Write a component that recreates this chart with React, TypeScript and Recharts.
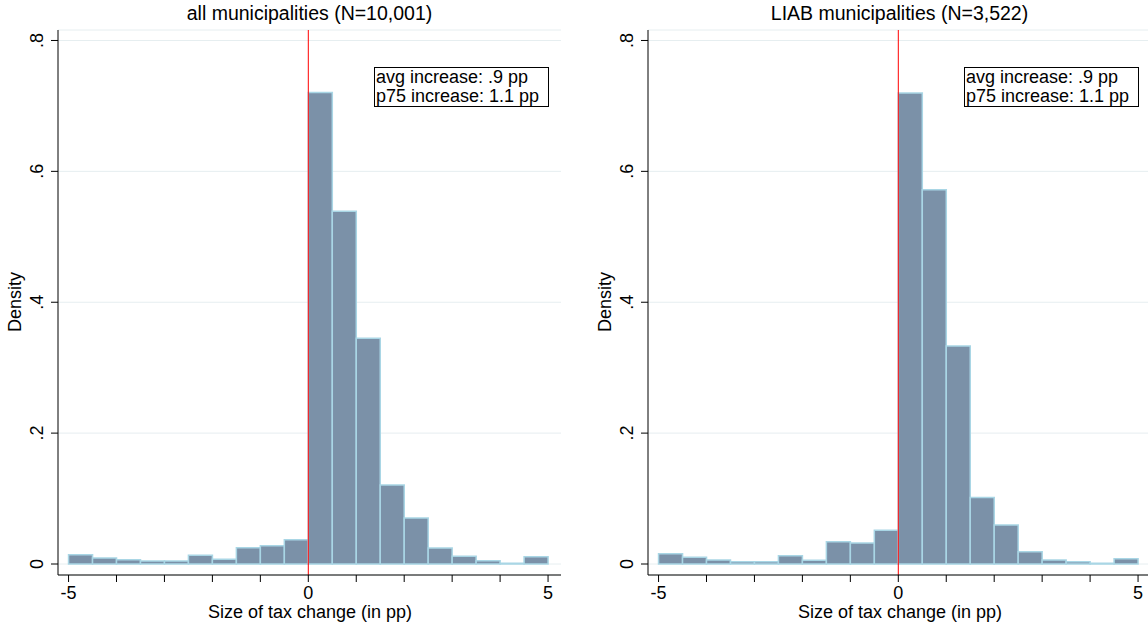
import { ComposedChart, Bar, XAxis, YAxis, CartesianGrid, ReferenceLine } from 'recharts'

// histogram bins of width 0.5 pp, from -5 to 5
const binMids = [-4.75, -4.25, -3.75, -3.25, -2.75, -2.25, -1.75, -1.25, -0.75, -0.25, 0.25, 0.75, 1.25, 1.75, 2.25, 2.75, 3.25, 3.75, 4.25, 4.75]
const allDensity = [0.0142, 0.0092, 0.0066, 0.0046, 0.0046, 0.0132, 0.0071, 0.0249, 0.028, 0.0371, 0.7206, 0.539, 0.345, 0.1206, 0.0702, 0.0244, 0.0117, 0.0051, 0.001, 0.0112]
const liabDensity = [0.0158, 0.0102, 0.0061, 0.0036, 0.0036, 0.0127, 0.0056, 0.0341, 0.0321, 0.0514, 0.7196, 0.572, 0.3333, 0.1018, 0.0595, 0.0188, 0.0061, 0.0036, 0.001, 0.0081]
const xTicks = [-5, -4, -3, -2, -1, 0, 1, 2, 3, 4, 5]
const xLabelled = [-5, 0, 5]
const yTicks = [0, 0.2, 0.4, 0.6, 0.8]

const rows = binMids.map((x, i) => ({ x, all: allDensity[i], liab: liabDensity[i] }))

const fmtY = (v: number) => (v === 0 ? '0' : String(v).replace(/^0/, ''))

function YTick(props: any) {
  const { y, payload } = props
  return (
    <text transform={`translate(43,${y}) rotate(-90)`} textAnchor="middle" fontSize={18} fill="#000">
      {fmtY(payload.value)}
    </text>
  )
}

function Panel({ title, dataKey, left }: { title: string; dataKey: string; left: number }) {
  return (
    <div style={{ position: 'absolute', left, top: 0, width: 580, height: 627 }}>
      <div style={{ position: 'absolute', left: 0, top: 3, width: 619, textAlign: 'center', fontSize: 19.5, lineHeight: '20px' }}>
        {title}
      </div>
      <div
        style={{
          position: 'absolute', left: 374, top: 67, width: 175, height: 40, boxSizing: 'border-box',
          border: '1px solid #000', fontSize: 18, lineHeight: '19px', paddingLeft: 1, background: '#fff', zIndex: 2
        }}
      >
        avg increase: .9 pp<br />p75 increase: 1.1 pp
      </div>
      <ComposedChart width={580} height={627} data={rows} margin={{ top: 30, right: 19, bottom: 0, left: 0 }} barCategoryGap={0} barGap={0}>
        <CartesianGrid vertical={false} stroke="#e6eef0" />
        <XAxis
          dataKey="x"
          type="number"
          domain={[-5.22, 5.27]}
          allowDataOverflow
          ticks={xTicks}
          interval={0}
          tickFormatter={(v: number) => (xLabelled.includes(v) ? String(v) : '')}
          height={52}
          tickSize={7}
          tickMargin={4}
          stroke="#000"
          tick={{ fill: '#000', fontSize: 18 }}
          label={{
            content: () => (
              <text x={310} y={618} textAnchor="middle" fontSize={18} fill="#000">Size of tax change (in pp)</text>
            )
          }}
        />
        <YAxis
          type="number"
          domain={[-0.0168, 0.816]}
          allowDataOverflow
          ticks={yTicks}
          width={58}
          tickSize={7}
          stroke="#000"
          tick={<YTick />}
          label={{
            content: () => (
              <text transform="translate(21,302) rotate(-90)" textAnchor="middle" fontSize={18} fill="#000">Density</text>
            )
          }}
        />
        <ReferenceLine x={0} stroke="#ff0000" strokeWidth={1} />
        <Bar dataKey={dataKey} fill="#7b91a8" stroke="#a9d6e5" strokeWidth={1.5} isAnimationActive={false} />
      </ComposedChart>
    </div>
  )
}

export default function App() {
  return (
    <div style={{ position: 'absolute', left: 0, top: 0, width: 1148, height: 627, overflow: 'hidden', background: '#fff', fontFamily: '"Liberation Sans", Arial, sans-serif' }}>
      <Panel title="all municipalities (N=10,001)" dataKey="all" left={0} />
      <Panel title="LIAB municipalities (N=3,522)" dataKey="liab" left={590} />
    </div>
  )
}
